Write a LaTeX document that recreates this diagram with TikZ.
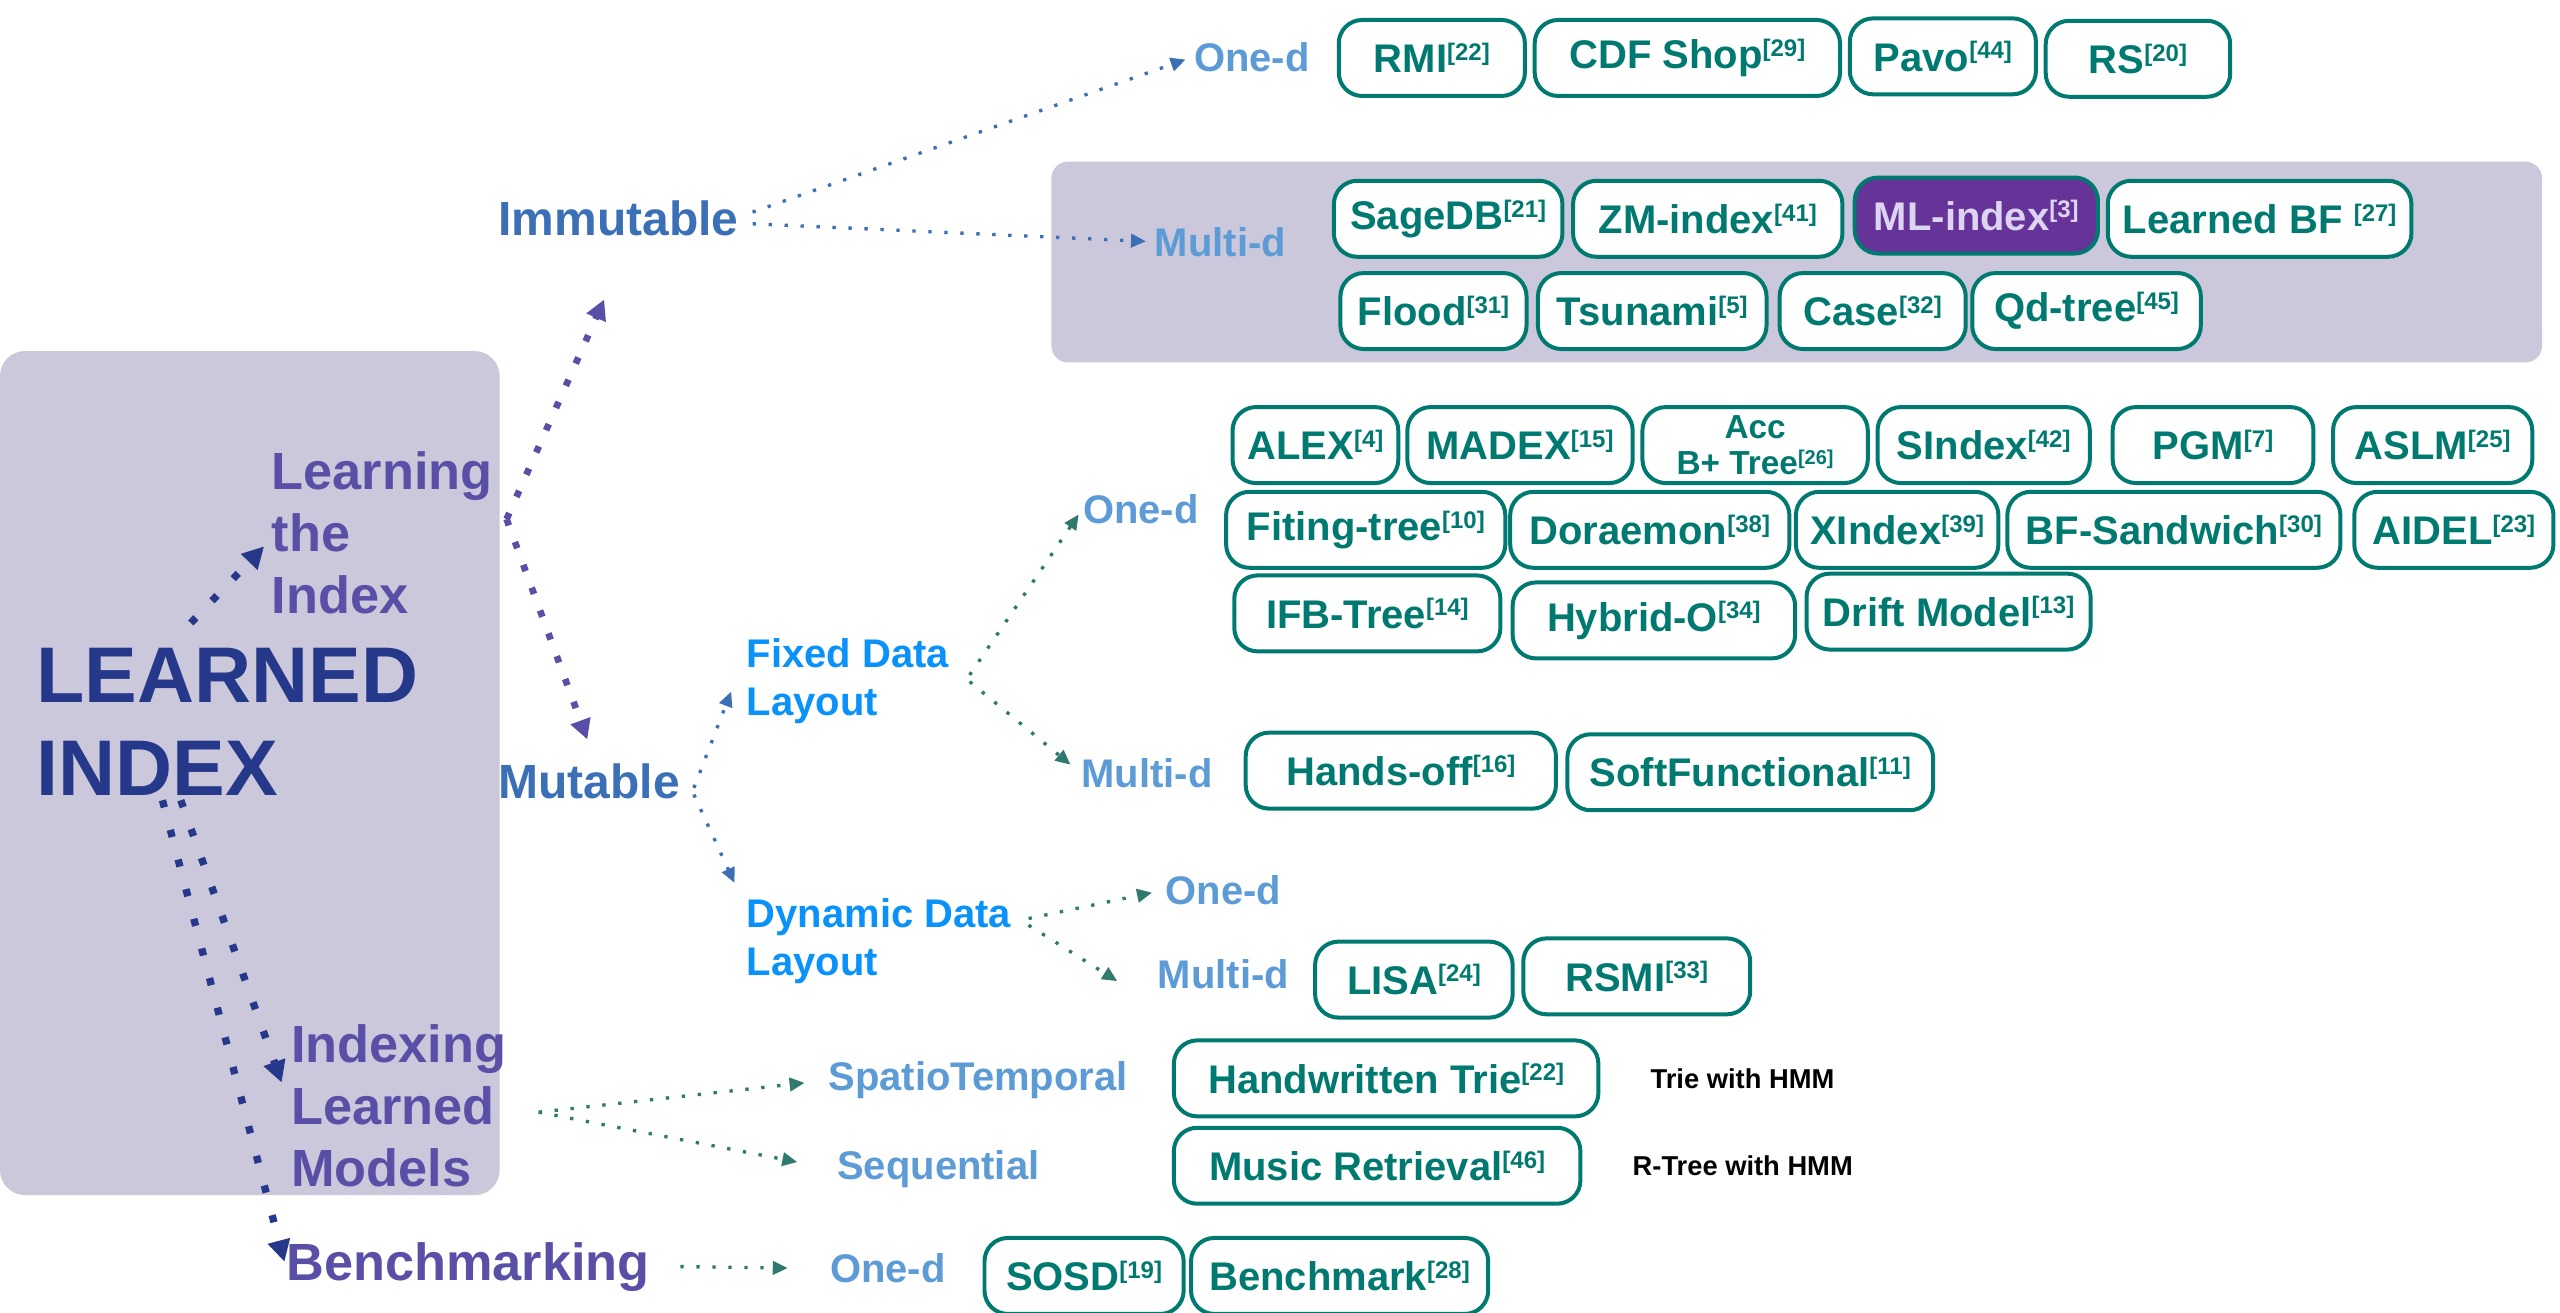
\documentclass[tikz,border=0pt]{standalone}
\usepackage{fontspec}
\setmainfont{Liberation Sans}
\usepackage{graphicx}
\usetikzlibrary{arrows.meta}
\definecolor{panel}{HTML}{CBC8DC}
\definecolor{navy}{HTML}{26388A}
\definecolor{purp}{HTML}{5A4FA6}
\definecolor{steel}{HTML}{3B6FB6}
\definecolor{lblue}{HTML}{5C9BD6}
\definecolor{bblue}{HTML}{0A92FA}
\definecolor{tealc}{HTML}{007A70}
\definecolor{tealar}{HTML}{2F7A6C}
\definecolor{mlfill}{HTML}{663399}
\definecolor{mltext}{HTML}{DCD4F0}
\newcommand\rf[1]{\raisebox{0.31em}{\scalebox{0.6}{[#1]}}}
\newcommand\mlines[1]{\begin{tabular}[t]{@{}l@{}}#1\end{tabular}}
\begin{document}
\begin{tikzpicture}[x=0.49pt,y=-0.49pt,
  rbox/.style={draw=tealc, line width=1.2pt, rounded corners=7pt, fill=white, text=tealc,
    minimum height=22.8pt, inner sep=0pt, font=\bfseries\fontsize{12}{14}\selectfont},
  bw/.style={minimum width=#1*0.49pt},
  lab/.style={anchor=base west, inner sep=0pt},
  big/.style={lab, text=navy, font=\bfseries\fontsize{23.7}{27.9}\selectfont},
  lvla/.style={lab, text=purp, font=\bfseries\fontsize{15.7}{18.5}\selectfont},
  lvlb/.style={lab, text=steel, font=\bfseries\fontsize{14.4}{17}\selectfont},
  lvlc/.style={lab, text=bblue, font=\bfseries\fontsize{12}{14.5}\selectfont},
  dimlab/.style={lab, text=lblue, font=\bfseries\fontsize{12}{14}\selectfont},
  note/.style={lab, text=black, font=\bfseries\fontsize{8.2}{10}\selectfont},
  navyarr/.style={draw=navy, line width=2.2pt, dash pattern=on 2.2pt off 7pt, -{Triangle[length=6.5pt,width=6.5pt]}},
  purparr/.style={draw=purp, line width=2pt, dash pattern=on 2pt off 5.3pt, -{Triangle[length=6pt,width=6pt]}},
  bluearr/.style={draw=steel, line width=1pt, dash pattern=on 1pt off 3.8pt, -{Triangle[length=4.5pt,width=4pt]}},
  tealarr/.style={draw=tealar, line width=1pt, dash pattern=on 1pt off 3.8pt, -{Triangle[length=4.5pt,width=4pt]}}
]
\useasboundingbox (0,0) rectangle (1568,803.6);
% panels
\path[fill=panel, rounded corners=7.5pt] (0,215) rectangle (306,732);
\path[fill=panel, rounded corners=5pt] (644,99) rectangle (1557,222);

% labels
\node[big] (li) at (22,430) {\mlines{LEARNED\\INDEX}};
\node[lvla] (learn) at (166,300) {\mlines{Learning\\the\\Index}};
\node[lvla] (ilm) at (178,651) {\mlines{Indexing\\Learned\\Models}};
\node[lvla] (bench) at (175,784) {Benchmarking};
\node[lvlb] (imm) at (305,144.5) {Immutable};
\node[lvlb] (mut) at (305,489) {Mutable};
\node[lvlc] (fixed) at (457,408.6) {\mlines{Fixed Data\\Layout}};
\node[lvlc] (dyn) at (457,568) {\mlines{Dynamic Data\\Layout}};
\node[dimlab] (oneA) at (731,43.5) {One-d};
\node[dimlab] (mdA) at (707,156.8) {Multi-d};
\node[dimlab] (oneB) at (663,320.5) {One-d};
\node[dimlab] (mdB) at (662,482.3) {Multi-d};
\node[dimlab] (oneC) at (713.6,553.8) {One-d};
\node[dimlab] (mdC) at (708.8,605.6) {Multi-d};
\node[dimlab] (spt) at (507,668) {SpatioTemporal};
\node[dimlab] (seq) at (512.4,722.7) {Sequential};
\node[dimlab] (oneD) at (508,785.8) {One-d};
\node[note] (n1) at (1010.6,666.5) {Trie with HMM};
\node[note] (n2) at (999.6,720) {R-Tree with HMM};

% immutable one-d
\node[rbox,bw=114] (rmi) at (877,35.5) {RMI\rf{22}};
\node[rbox,bw=187] (cdf) at (1033.5,35.5) {CDF Shop\rf{29}};
\node[rbox,bw=114] (pavo) at (1190,34.5) {Pavo\rf{44}};
\node[rbox,bw=113] (rs) at (1309.5,36) {RS\rf{20}};
% immutable multi-d
\node[rbox,bw=140] (sagedb) at (887,134) {SageDB\rf{21}};
\node[rbox,bw=165] (zm) at (1046,134) {ZM-index\rf{41}};
\node[rbox,bw=149,fill=mlfill,text=mltext] (ml) at (1210.5,132) {ML-index\rf{3}};
\node[rbox,bw=186] (lbf) at (1384,134) {Learned BF \rf{27}};
\node[rbox,bw=114] (flood) at (878,190.5) {Flood\rf{31}};
\node[rbox,bw=140] (tsu) at (1012,190.5) {Tsunami\rf{5}};
\node[rbox,bw=114] (case) at (1147,190.5) {Case\rf{32}};
\node[rbox,bw=140] (qd) at (1278,190.5) {Qd-tree\rf{45}};
% fixed one-d
\node[rbox,bw=101.5] (alex) at (805.7,272.6) {ALEX\rf{4}};
\node[rbox,bw=138] (madex) at (931,272.6) {MADEX\rf{15}};
\node[rbox,bw=138,align=center,font=\bfseries\fontsize{10}{11}\selectfont] (acc) at (1075,272.6) {Acc\\B+ Tree\rf{26}};
\node[rbox,bw=130] (sindex) at (1215,272.6) {SIndex\rf{42}};
\node[rbox,bw=123] (pgm) at (1355.5,272.6) {PGM\rf{7}};
\node[rbox,bw=122] (aslm) at (1490,272.6) {ASLM\rf{25}};
\node[rbox,bw=171] (fit) at (836.5,324.5) {Fiting-tree\rf{10}};
\node[rbox,bw=171] (dora) at (1010.5,324.5) {Doraemon\rf{38}};
\node[rbox,bw=124] (xindex) at (1162,324.5) {XIndex\rf{39}};
\node[rbox,bw=204] (bfs) at (1331.5,324.5) {BF-Sandwich\rf{30}};
\node[rbox,bw=122] (aidel) at (1503,324.5) {AIDEL\rf{23}};
\node[rbox,bw=163] (ifb) at (837.5,375.7) {IFB-Tree\rf{14}};
\node[rbox,bw=173] (hyb) at (1013,380) {Hybrid-O\rf{34}};
\node[rbox,bw=174] (drift) at (1193.5,374.6) {Drift Model\rf{13}};
% fixed multi-d
\node[rbox,bw=190] (hands) at (858,472) {Hands-off\rf{16}};
\node[rbox,bw=224] (soft) at (1072,473) {SoftFunctional\rf{11}};
% dynamic multi-d
\node[rbox,bw=121] (lisa) at (866,600) {LISA\rf{24}};
\node[rbox,bw=139] (rsmi) at (1002.5,598) {RSMI\rf{33}};
% indexing learned models
\node[rbox,bw=260] (hw) at (849,660.5) {Handwritten Trie\rf{22}};
\node[rbox,bw=249] (music) at (843.5,714) {Music Retrieval\rf{46}};
% benchmarking
\node[rbox,bw=122] (sosd) at (664,781.5) {SOSD\rf{19}};
\node[rbox,bw=182] (bmk) at (820.5,781.5) {Benchmark\rf{28}};

% connectors
\draw[navyarr, shorten >=3pt] ([xshift=-11pt,yshift=4pt]li.north) -- (learn.west);
\draw[navyarr, shorten >=2pt] ([xshift=-14pt,yshift=7pt]li.south) -- ([xshift=-2pt,yshift=7pt]ilm.west);
\draw[navyarr, shorten >=1.5pt] ([xshift=-19.5pt,yshift=7pt]li.south) -- (bench.west);
\draw[purparr, shorten >=20.5pt] ([xshift=4pt,yshift=6pt]learn.east) -- ([xshift=4pt]imm.south);
\draw[purparr, shorten >=7.5pt] ([xshift=4pt,yshift=6pt]learn.east) -- ([xshift=2pt]mut.north);
\draw[bluearr, shorten >=2.5pt] ([xshift=4pt,yshift=2pt]imm.east) -- (oneA.west);
\draw[bluearr, shorten >=2.5pt] ([xshift=4pt,yshift=-1.5pt]imm.east) -- (mdA.west);
\draw[bluearr] ([xshift=4pt,yshift=-2pt]mut.east) -- ([xshift=-4.5pt,yshift=-3pt]fixed.west);
\draw[bluearr] ([xshift=4pt,yshift=-4pt]mut.east) -- ([xshift=-3.5pt,yshift=3pt]dyn.north west);
\draw[tealarr, shorten >=2pt] ([xshift=6pt,yshift=2pt]fixed.east) -- (oneB.west);
\draw[tealarr, shorten >=4pt] ([xshift=6pt]fixed.east) -- (mdB.west);
\draw[tealarr, shorten >=4pt] ([xshift=5pt,yshift=7pt]dyn.east) -- (oneC.west);
\draw[tealarr] ([xshift=5pt,yshift=5pt]dyn.east) -- ([xshift=-12pt,yshift=-2pt]mdC.west);
\draw[tealarr, shorten >=7pt] ([xshift=9.5pt]ilm.east) -- (spt.west);
\draw[tealarr, shorten >=12pt] ([xshift=9.5pt]ilm.east) -- (seq.west);
\draw[tealarr, shorten >=12.5pt] ([xshift=9pt]bench.east) -- (oneD.west);
\end{tikzpicture}
\end{document}
